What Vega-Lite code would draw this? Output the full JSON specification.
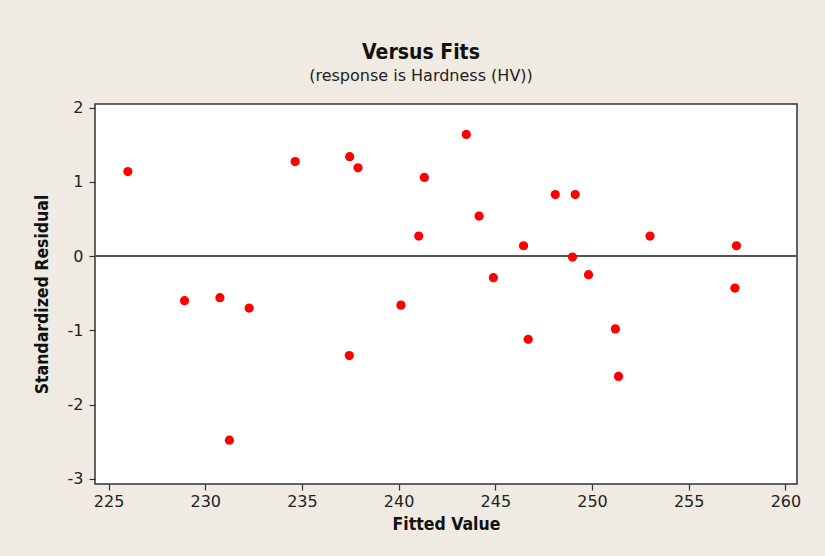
{
  "$schema": "https://vega.github.io/schema/vega-lite/v6.json",
  "width": 702,
  "height": 380,
  "autosize": {"type": "none"},
  "padding": {"left": 95, "top": 104, "right": 28, "bottom": 72},
  "background": "#EFEBE2",
  "title": {
    "text": "Versus Fits",
    "subtitle": "(response is Hardness (HV))",
    "anchor": "middle",
    "dx": -25,
    "font": "DejaVu Sans Condensed",
    "fontSize": 21,
    "fontWeight": "bold",
    "color": "#111",
    "subtitleFont": "DejaVu Sans",
    "subtitleFontSize": 16,
    "subtitleColor": "#222",
    "subtitlePadding": 5,
    "offset": 16
  },
  "data": {
    "values": [
      {"fit": 226.0, "res": 1.14},
      {"fit": 228.93, "res": -0.60},
      {"fit": 230.76, "res": -0.56},
      {"fit": 231.25, "res": -2.48},
      {"fit": 232.27, "res": -0.70},
      {"fit": 234.65, "res": 1.275},
      {"fit": 237.47, "res": 1.34},
      {"fit": 237.9, "res": 1.19},
      {"fit": 237.45, "res": -1.34},
      {"fit": 240.12, "res": -0.66},
      {"fit": 241.04, "res": 0.27},
      {"fit": 241.33, "res": 1.06},
      {"fit": 243.5, "res": 1.64},
      {"fit": 244.16, "res": 0.54},
      {"fit": 244.9, "res": -0.29},
      {"fit": 246.46, "res": 0.14},
      {"fit": 246.7, "res": -1.12},
      {"fit": 248.1, "res": 0.83},
      {"fit": 248.99, "res": -0.013},
      {"fit": 249.13, "res": 0.83},
      {"fit": 249.82, "res": -0.25},
      {"fit": 251.21, "res": -0.98},
      {"fit": 251.37, "res": -1.62},
      {"fit": 253.0, "res": 0.27},
      {"fit": 257.47, "res": 0.14},
      {"fit": 257.39, "res": -0.43}
    ]
  },
  "layer": [
    {
      "mark": {"type": "rule", "color": "#555", "strokeWidth": 1.5},
      "encoding": {"y": {"datum": 0, "type": "quantitative"}}
    },
    {
      "mark": {"type": "point", "shape": "circle", "filled": true, "color": "#FF0000", "opacity": 1, "size": 85},
      "encoding": {
        "x": {
          "field": "fit",
          "type": "quantitative",
          "title": "Fitted Value",
          "scale": {"domain": [224.3, 260.6], "nice": false, "zero": false},
          "axis": {"values": [225, 230, 235, 240, 245, 250, 255, 260], "labelExpr": "'' + datum.value"}
        },
        "y": {
          "field": "res",
          "type": "quantitative",
          "title": "Standardized Residual",
          "scale": {"domain": [-3.07, 2.05], "nice": false, "zero": false},
          "axis": {"values": [-3, -2, -1, 0, 1, 2], "labelExpr": "'' + datum.value"}
        }
      }
    }
  ],
  "config": {
    "view": {"stroke": "#333", "strokeWidth": 1.5, "fill": "white"},
    "axis": {
      "grid": false,
      "domain": false,
      "tickColor": "#333",
      "tickSize": 6,
      "tickWidth": 1.2,
      "labelFont": "DejaVu Sans",
      "labelFontSize": 16,
      "labelColor": "#222",
      "titleFont": "DejaVu Sans Condensed",
      "titleFontSize": 17.5,
      "titleFontWeight": "bold",
      "titleColor": "#111"
    },
    "axisX": {"labelPadding": 3, "titlePadding": 6},
    "axisY": {"labelPadding": 6, "titlePadding": 16}
  }
}
